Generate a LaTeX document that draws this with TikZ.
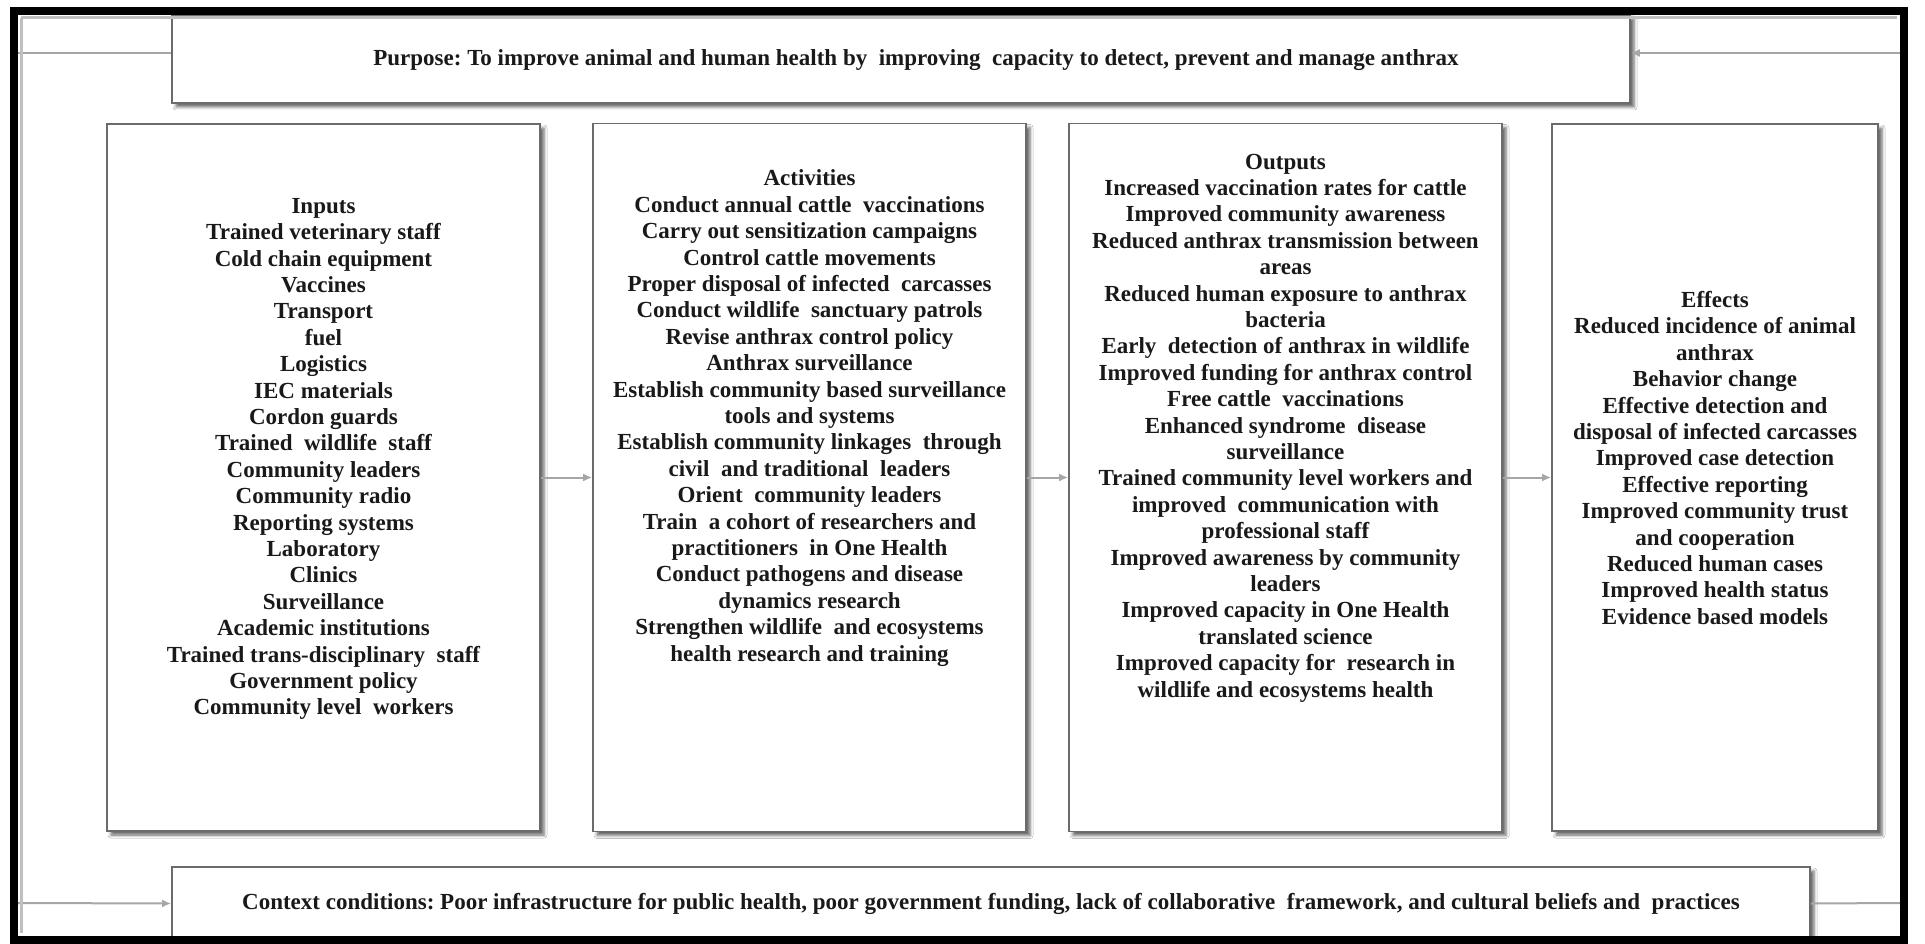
\documentclass[tikz,border=0pt]{standalone}
\usepackage{fontspec}
\setmainfont{Liberation Serif}
\usetikzlibrary{arrows.meta,shadows.blur}
\frenchspacing
\begin{document}
\begin{tikzpicture}[x=1pt,y=-1pt,
  box/.style={draw=black!58, line width=1.8pt, fill=white, rectangle, inner sep=0pt,
    blur shadow={shadow xshift=4pt, shadow yshift=-4pt, shadow blur radius=3pt, shadow opacity=60}},
  txt/.style={align=center, inner sep=0pt, text=black!90,
    font=\fontsize{23}{26.4}\selectfont\bfseries},
  flow/.style={draw=black!35, line width=2pt, -{Latex[length=9pt,width=8pt]}},
  link/.style={draw=black!35, line width=2pt}]
\useasboundingbox (0,0) rectangle (1925,944);
\fill[white] (0,0) rectangle (1925,944);

% boxes
\node[box, minimum width=1458pt, minimum height=88pt] (purpose) at (901,59) {};
\node[box, minimum width=1638pt, minimum height=73pt] (context) at (991,903.5) {};
\node[box, minimum width=433pt, minimum height=707pt] (inbox) at (323.5,477.5) {};
\node[box, minimum width=433pt, minimum height=708pt] (actbox) at (809.5,477.5) {};
\node[box, minimum width=433pt, minimum height=708pt] (outbox) at (1285.5,477.5) {};
\node[box, minimum width=326pt, minimum height=707pt] (effbox) at (1715,477.5) {};

% texts
\node[txt] (purposetxt) at (916,60) {Purpose: To improve animal and human health by\ \ improving\ \ capacity to detect, prevent and manage anthrax};
\node[txt] (contexttxt) at (991,904) {Context conditions: Poor infrastructure for public health, poor government funding, lack of collaborative\ \ framework, and cultural beliefs and\ \ practices};

\node[txt] (intxt) at (323.5,459) {Inputs\\
Trained veterinary staff\\
Cold chain equipment\\
Vaccines\\
Transport\\
fuel\\
Logistics\\
IEC materials\\
Cordon guards\\
Trained\ \ wildlife\ \ staff\\
Community leaders\\
Community radio\\
Reporting systems\\
Laboratory\\
Clinics\\
Surveillance\\
Academic institutions\\
Trained trans-disciplinary\ \ staff\\
Government policy\\
Community level\ \ workers};

\node[txt] (acttxt) at (809.5,418) {Activities\\
Conduct annual cattle\ \ vaccinations\\
Carry out sensitization campaigns\\
Control cattle movements\\
Proper disposal of infected\ \ carcasses\\
Conduct wildlife\ \ sanctuary patrols\\
Revise anthrax control policy\\
Anthrax surveillance\\
Establish community based surveillance\\
tools and systems\\
Establish community linkages\ \ through\\
civil\ \ and traditional\ \ leaders\\
Orient\ \ community leaders\\
Train\ \ a cohort of researchers and\\
practitioners\ \ in One Health\\
Conduct pathogens and disease\\
dynamics research\\
Strengthen wildlife\ \ and ecosystems\\
health research and training};

\node[txt] (outtxt) at (1285.5,428) {Outputs\\
Increased vaccination rates for cattle\\
Improved community awareness\\
Reduced anthrax transmission between\\
areas\\
Reduced human exposure to anthrax\\
bacteria\\
Early\ \ detection of anthrax in wildlife\\
Improved funding for anthrax control\\
Free cattle\ \ vaccinations\\
Enhanced syndrome\ \ disease\\
surveillance\\
Trained community level workers and\\
improved\ \ communication with\\
professional staff\\
Improved awareness by community\\
leaders\\
Improved capacity in One Health\\
translated science\\
Improved capacity for\ \ research in\\
wildlife and ecosystems health};

\node[txt] (efftxt) at (1715,458) {Effects\\
Reduced incidence of animal\\
anthrax\\
Behavior change\\
Effective detection and\\
disposal of infected carcasses\\
Improved case detection\\
Effective reporting\\
Improved community trust\\
and cooperation\\
Reduced human cases\\
Improved health status\\
Evidence based models};

% frame anchor points
\coordinate (ftl) at (18,53);
\coordinate (ftr) at (1900,53);
\coordinate (fbl) at (18,903);
\coordinate (fbr) at (1900,903);

% connectors
\draw[link] (ftl) -- (ftl -| purpose.west);
\draw[flow] (ftr) -- (ftr -| purpose.east);
\draw[flow] (fbl) -- (context.west);
\draw[link] (context.east) -- (fbr);
\draw[flow] (inbox.east) -- (actbox.west);
\draw[flow] (actbox.east) -- (outbox.west);
\draw[flow] (outbox.east) -- (effbox.west);

% outer frame
\draw[black!25, line width=3pt] (21,18) -- (1897,18);
\draw[black!25, line width=3pt] (21,18) -- (21,933);
\draw[black, line width=8pt] (14,11) rectangle (1904,940);
\end{tikzpicture}
\end{document}
